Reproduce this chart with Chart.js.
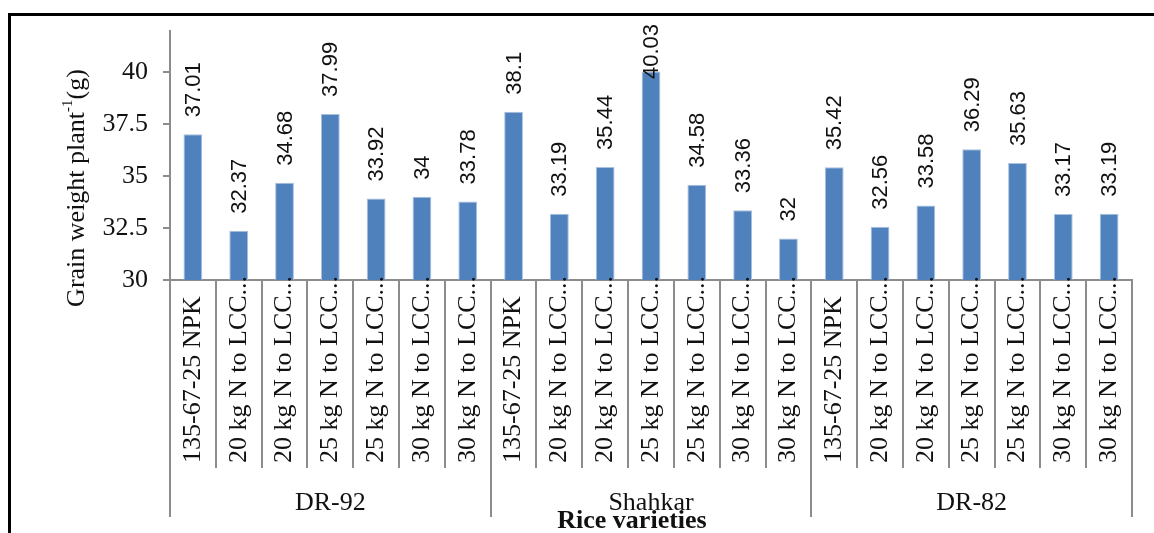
<!DOCTYPE html>
<html>
<head>
<meta charset="utf-8">
<script src="https://cdn.jsdelivr.net/npm/chart.js@4.4.1/dist/chart.umd.min.js"></script>
<style>
  html, body { margin:0; padding:0; background:#fff; }
  #wrap { position:relative; width:1154px; height:533px; }
</style>
</head>
<body>
<div id="wrap"><canvas id="chart" width="1154" height="533"></canvas></div>
<script>
// grain weight per plant, 3 varieties x 7 N treatments
const varieties  = ['DR-92', 'Shahkar', 'DR-82'];
const treatments = ['135-67-25 NPK', '20 kg N to LCC...', '20 kg N to LCC...', '25 kg N to LCC...',
                    '25 kg N to LCC...', '30 kg N to LCC...', '30 kg N to LCC...'];
const dr92    = [37.01, 32.37, 34.68, 37.99, 33.92, 34, 33.78];
const shahkar = [38.1, 33.19, 35.44, 40.03, 34.58, 33.36, 32];
const dr82    = [35.42, 32.56, 33.58, 36.29, 35.63, 33.17, 33.19];
const yTicks  = [30, 32.5, 35, 37.5, 40];

const labels = varieties.flatMap(() => treatments);
const values = [...dr92, ...shahkar, ...dr82];

const SERIF = '"Liberation Serif", "Times New Roman", serif';
const SANS  = '"Liberation Sans", Arial, sans-serif';
const AXIS_GRAY = '#8c8c8c';

const decorPlugin = {
  id: 'decor',
  afterDraw(chart) {
    const { ctx, chartArea: ca } = chart;
    const xs = chart.scales.x;
    const meta = chart.getDatasetMeta(0);
    const half = (xs.getPixelForValue(1) - xs.getPixelForValue(0)) / 2;
    ctx.save();

    // outer frame (top + left only)
    ctx.fillStyle = '#000';
    ctx.fillRect(8, 13, chart.width - 8, 3);
    ctx.fillRect(8, 13, 3, chart.height - 13);

    // category separators below the axis
    ctx.strokeStyle = AXIS_GRAY;
    ctx.lineWidth = 2;
    for (let i = 0; i <= labels.length; i++) {
      const x = Math.round(xs.getPixelForValue(0) - half + i * half * 2);
      const bottom = i % treatments.length === 0 ? 517 : 468;
      ctx.beginPath();
      ctx.moveTo(x, ca.bottom);
      ctx.lineTo(x, bottom);
      ctx.stroke();
    }

    // treatment labels, rotated, reading upward
    ctx.fillStyle = '#111';
    ctx.font = '26px ' + SERIF;
    ctx.textAlign = 'left';
    ctx.textBaseline = 'middle';
    labels.forEach((t, i) => {
      ctx.save();
      ctx.translate(xs.getPixelForValue(i), 463);
      ctx.rotate(-Math.PI / 2);
      ctx.fillText(t, 0, 0);
      ctx.restore();
    });

    // variety group labels
    ctx.textAlign = 'center';
    ctx.textBaseline = 'alphabetic';
    varieties.forEach((v, g) => {
      const a = xs.getPixelForValue(g * treatments.length);
      const b = xs.getPixelForValue((g + 1) * treatments.length - 1);
      ctx.fillText(v, (a + b) / 2, 510);
    });

    // x title
    ctx.font = 'bold 26px ' + SERIF;
    ctx.fillText('Rice varieties', 632, 528);

    // value labels above bars
    ctx.font = '22px ' + SANS;
    ctx.textAlign = 'left';
    ctx.textBaseline = 'middle';
    meta.data.forEach((bar, i) => {
      const txt = String(values[i]);
      const w = ctx.measureText(txt).width;
      let y = bar.y - 17;
      if (y - w < 24) y = 24 + w;
      ctx.save();
      ctx.translate(bar.x + 1, y);
      ctx.rotate(-Math.PI / 2);
      ctx.fillText(txt, 0, 0);
      ctx.restore();
    });

    // y title with superscript
    const parts = [
      { t: 'Grain weight plant', f: '26px ' + SERIF, dy: 0 },
      { t: '-1', f: '15px ' + SERIF, dy: -9 },
      { t: '(g)', f: '26px ' + SERIF, dy: 0 }
    ];
    let total = 0;
    parts.forEach(p => { ctx.font = p.f; p.w = ctx.measureText(p.t).width; total += p.w; });
    ctx.save();
    ctx.translate(77, 188);
    ctx.rotate(-Math.PI / 2);
    ctx.textAlign = 'left';
    ctx.textBaseline = 'middle';
    let cx = -total / 2;
    parts.forEach(p => { ctx.font = p.f; ctx.fillText(p.t, cx, p.dy); cx += p.w; });
    ctx.restore();

    ctx.restore();
  }
};

new Chart(document.getElementById('chart'), {
  type: 'bar',
  data: {
    labels: labels,
    datasets: [{
      data: values,
      backgroundColor: '#4F81BD',
      borderColor: '#a9c0de',
      borderWidth: { top: 1, left: 1, right: 1, bottom: 0 },
      barPercentage: 0.41,
      categoryPercentage: 1
    }]
  },
  options: {
    responsive: false,
    animation: false,
    layout: { padding: { top: 30, right: 22, left: 0, bottom: 0 } },
    plugins: { legend: { display: false }, tooltip: { enabled: false } },
    scales: {
      x: {
        ticks: { display: false },
        grid: { display: true, drawOnChartArea: false, drawTicks: false },
        border: { color: AXIS_GRAY, width: 2 },
        afterFit: s => { s.height = 253; }
      },
      y: {
        min: 30,
        max: 42,
        afterBuildTicks: s => { s.ticks = yTicks.map(v => ({ value: v })); },
        ticks: { padding: 15, color: '#111', font: { family: SERIF, size: 26 } },
        grid: { drawOnChartArea: false, drawTicks: true, tickLength: 7, color: AXIS_GRAY, lineWidth: 2 },
        border: { color: AXIS_GRAY, width: 2 },
        afterFit: s => { s.width = 170; }
      }
    }
  },
  plugins: [decorPlugin]
});
</script>
</body>
</html>
